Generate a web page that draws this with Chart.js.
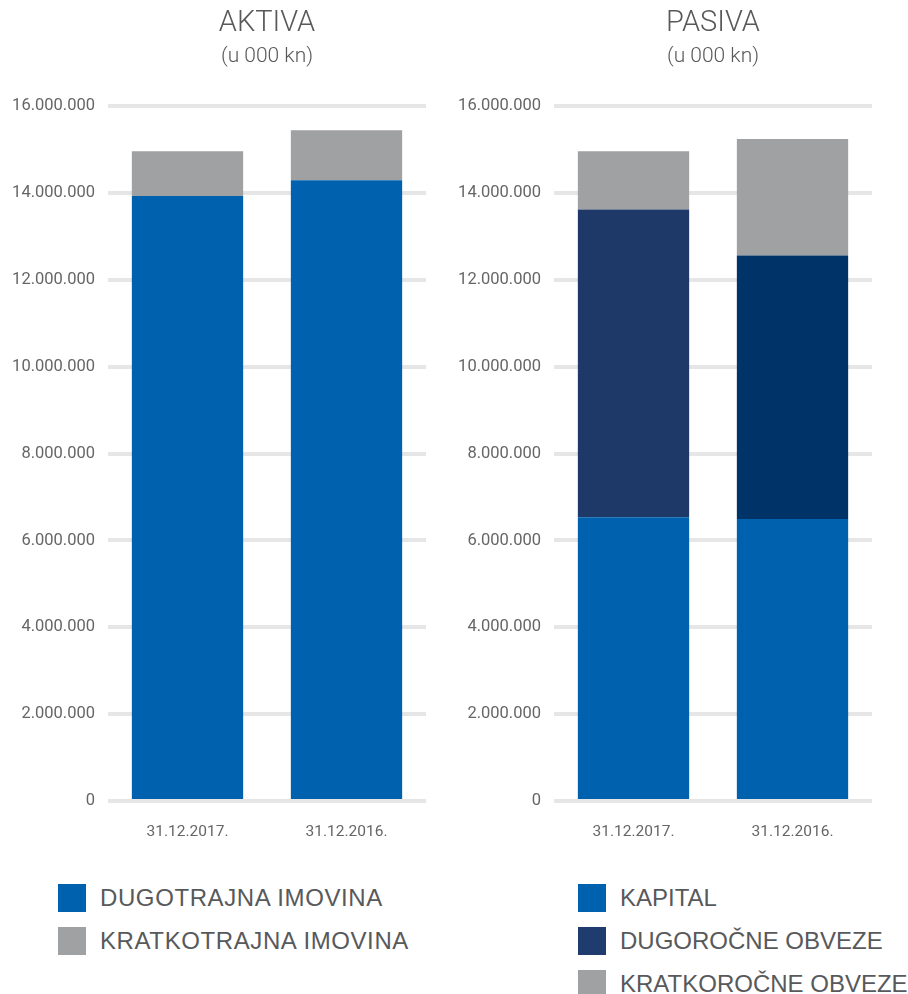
<!DOCTYPE html>
<html>
<head>
<meta charset="utf-8">
<script src="https://cdn.jsdelivr.net/npm/chart.js@4.4.0/dist/chart.umd.min.js"></script>
<style>
  body { margin: 0; background: #fff; }
  #wrap { position: relative; width: 908px; height: 994px; }
  .box { position: absolute; top: 0; width: 454px; height: 852px; }
  .legend { position: absolute; top: 884px; font-family: "Liberation Sans", Arial, sans-serif; font-size: 24px; letter-spacing: 0.6px; color: #58595b; }
  .legend div { display: flex; align-items: center; height: 28px; margin-bottom: 15px; white-space: nowrap; }
  .legend span { display: inline-block; width: 28px; height: 28px; margin-right: 14px; }
  #legPasiva { letter-spacing: 0; }
</style>
</head>
<body>
<div id="wrap">
  <div class="box" style="left:0"><canvas id="aktiva"></canvas></div>
  <div class="box" style="left:446px"><canvas id="pasiva"></canvas></div>
  <div class="legend" id="legAktiva" style="left:58px"></div>
  <div class="legend" id="legPasiva" style="left:578px"></div>
</div>
<script>
const labels = ["31.12.2017.", "31.12.2016."];

// aktiva (u 000 kn)
const dugotrajna = [13930000, 14290000];
const kratkotrajna = [1030000, 1150000];

// pasiva (u 000 kn)
const kapital = [6530000, 6490000];
const dugorocne = [7090000, 6070000];
const kratkorocne = [1340000, 2680000];

const BLUE = "#0062ae";
const GREY = "#a0a1a3";
const NAVY = ["#1e3868", "#003468"];

function fmt(v) {
  return String(v).replace(/\B(?=(\d{3})+(?!\d))/g, ".");
}

function makeChart(id, title, datasets) {
  new Chart(document.getElementById(id), {
    type: "bar",
    data: { labels: labels, datasets: datasets },
    options: {
      responsive: true,
      maintainAspectRatio: false,
      animation: false,
      layout: { padding: { left: 0, right: 28, top: 0, bottom: 0 } },
      plugins: {
        legend: { display: false },
        tooltip: { enabled: false },
        title: {
          display: true,
          text: title,
          fullSize: false,
          color: "#58595b",
          font: { family: "Roboto, 'Liberation Sans', sans-serif", size: 29, weight: 300, lineHeight: 1.2 },
          padding: { top: 6, bottom: 0 }
        },
        subtitle: {
          display: true,
          text: "(u 000 kn)",
          fullSize: false,
          color: "#58595b",
          font: { family: "Roboto, 'Liberation Sans', sans-serif", size: 21, weight: 300, lineHeight: 1.2 },
          padding: { top: 3, bottom: 37 }
        }
      },
      scales: {
        x: {
          stacked: true,
          grid: { display: false, drawTicks: false },
          border: { display: false },
          ticks: { color: "#666", padding: 22, font: { family: "Roboto, 'Liberation Sans', sans-serif", size: 15.5 } },
          afterFit: (s) => { s.height = 51; }
        },
        y: {
          stacked: true,
          min: 0,
          max: 16000000,
          grid: { color: "#e6e6e7", lineWidth: 4, drawTicks: false },
          border: { display: false },
          ticks: {
            stepSize: 2000000,
            color: "#666",
            padding: 13,
            font: { family: "Roboto, 'Liberation Sans', sans-serif", size: 16.5 },
            callback: (v) => fmt(v)
          },
          afterFit: (s) => { s.width = 108; }
        }
      },
      datasets: { bar: { barPercentage: 0.7, categoryPercentage: 1 } }
    }
  });
}

makeChart("aktiva", "AKTIVA", [
  { label: "DUGOTRAJNA IMOVINA", data: dugotrajna, backgroundColor: BLUE },
  { label: "KRATKOTRAJNA IMOVINA", data: kratkotrajna, backgroundColor: GREY }
]);

makeChart("pasiva", "PASIVA", [
  { label: "KAPITAL", data: kapital, backgroundColor: BLUE },
  { label: "DUGOROČNE OBVEZE", data: dugorocne, backgroundColor: NAVY },
  { label: "KRATKOROČNE OBVEZE", data: kratkorocne, backgroundColor: GREY }
]);

function legend(id, items) {
  const el = document.getElementById(id);
  items.forEach(([text, color]) => {
    const row = document.createElement("div");
    const sw = document.createElement("span");
    sw.style.background = color;
    row.appendChild(sw);
    row.appendChild(document.createTextNode(text));
    el.appendChild(row);
  });
}
legend("legAktiva", [["DUGOTRAJNA IMOVINA", BLUE], ["KRATKOTRAJNA IMOVINA", GREY]]);
legend("legPasiva", [["KAPITAL", BLUE], ["DUGOROČNE OBVEZE", "#1e3d6e"], ["KRATKOROČNE OBVEZE", GREY]]);
</script>
</body>
</html>
